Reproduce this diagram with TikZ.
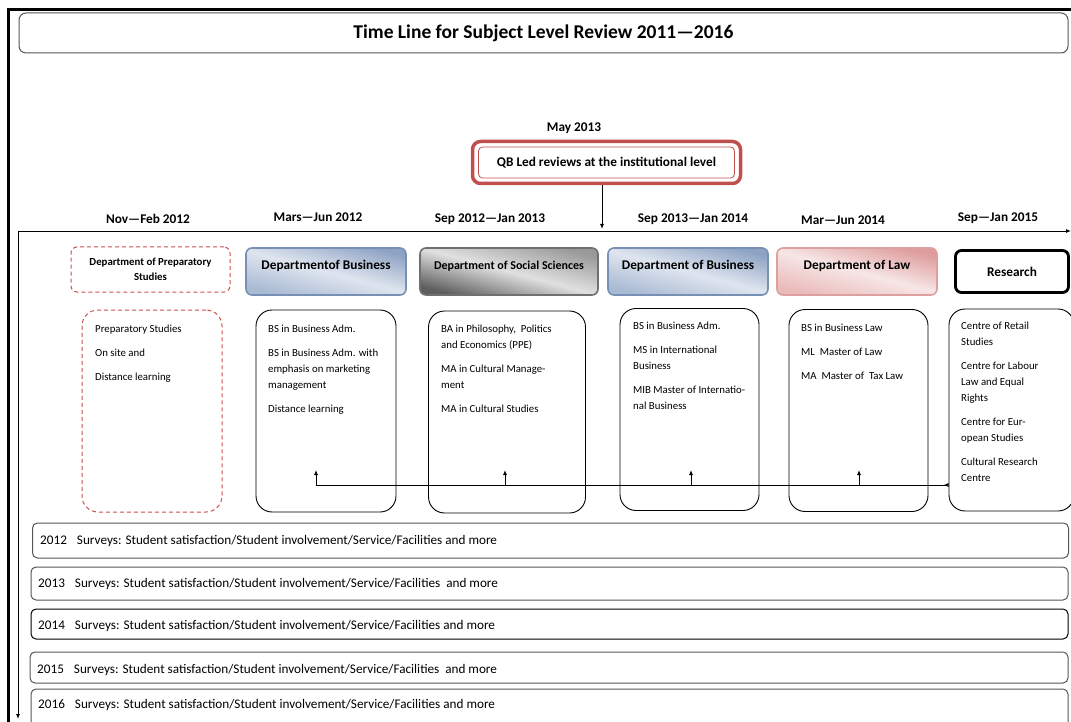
\documentclass[tikz,border=0pt]{standalone}
\usepackage{fontspec}
\setmainfont{Carlito}
\usetikzlibrary{arrows.meta}
\definecolor{qbred}{HTML}{C0504D}
\definecolor{dashred}{HTML}{C9504D}
\definecolor{bizline}{HTML}{7890B4}
\definecolor{bizdark}{HTML}{8EA3C4}
\definecolor{bizlight}{HTML}{DFE5EF}
\definecolor{bizmid}{HTML}{A9BAD3}
\definecolor{socline}{HTML}{707070}
\definecolor{socdark}{HTML}{5E5E5E}
\definecolor{soclight}{HTML}{E0E0E0}
\definecolor{socmid}{HTML}{999999}
\definecolor{lawline}{HTML}{DDA0A0}
\definecolor{lawdark}{HTML}{DE9C9C}
\definecolor{lawlight}{HTML}{F7E6E6}
\definecolor{lawmid}{HTML}{EABABA}
\definecolor{framegray}{HTML}{555555}
\tikzset{
  boldfont/.style={font=\bfseries\fontsize{13.3}{15}\selectfont},
  datelbl/.style={boldfont, inner sep=0pt},
  hdr/.style={rounded corners=6pt, minimum width=160pt, minimum height=47pt,
    inner sep=0pt, boldfont, text height=9pt, text depth=13pt},
  bizhdr/.style={hdr, draw=bizline, line width=1.6pt, shading=axis,
    top color=bizdark, bottom color=bizmid, middle color=bizlight, shading angle=-15},
  sochdr/.style={hdr, draw=socline, line width=1.6pt, shading=axis,
    top color=socmid, bottom color=socdark, middle color=soclight, shading angle=-15},
  lawhdr/.style={hdr, draw=lawline, line width=1.6pt, shading=axis,
    top color=lawdark, bottom color=lawmid, middle color=lawlight, shading angle=-15},
  contentbox/.style={draw, line width=0.9pt, rounded corners=16pt,
    minimum width=140pt, minimum height=202pt, inner sep=0pt},
  dashbox/.style={draw=dashred, line width=1pt, dash pattern=on 4pt off 3pt},
  bodytxt/.style={font=\fontsize{10.8}{16}\selectfont, align=left, inner sep=0pt, anchor=north west},
  surveybox/.style={draw=framegray, line width=1pt, rounded corners=5pt, minimum width=1036pt, inner sep=0pt},
  surveytxt/.style={font=\fontsize{13.2}{15}\selectfont, inner sep=0pt, anchor=west},
  arr/.style={-{Latex[length=5pt,width=4pt]}, line width=0.9pt},
}
\newcommand{\psep}{\\[8pt]}
\begin{document}
\begin{tikzpicture}[x=1pt,y=-1pt]
\useasboundingbox (0,0) rectangle (1071,722);
\clip (0,0) rectangle (1071,722);
% outer frame
\draw[line width=3pt] (8,722) -- (8,10) -- (1071,10);
% title
\node[draw=framegray, line width=1pt, rounded corners=7pt, minimum width=1049pt, minimum height=40pt,
  font=\bfseries\fontsize{19.5}{22}\selectfont] (title) at (543.5,33) {Time Line for Subject Level Review 2011—2016};
% QB box
\node[datelbl] (may) at (574,128) {May 2013};
\node[draw=qbred, line width=3.5pt, rounded corners=8pt, minimum width=268pt, minimum height=42pt, inner sep=0pt] (qb) at (606.5,162.5) {};
\node[draw=qbred, line width=0.8pt, rounded corners=4pt, minimum width=256pt, minimum height=31pt, inner sep=0pt,
  boldfont] (qbin) at (qb.center) {QB Led reviews at the institutional level};
% timeline
\coordinate (tl0) at (18,231);
\coordinate (tl1) at (1071,231);
\coordinate (tlb) at (18,719);
\coordinate (qbhit) at (602,229);
\draw[arr] (tl0) -- (tl1);
\draw[arr] (tl0) -- (tlb);
\draw[arr] (qb.south -| qbhit) -- (qbhit);
% date labels
\node[datelbl] (d1) at (148,219) {Nov—Feb 2012};
\node[datelbl] (d2) at (318,217) {Mars—Jun 2012};
\node[datelbl] (d3) at (490,219) {Sep 2012—Jan 2013};
\node[datelbl] (d4) at (693,219) {Sep 2013—Jan 2014};
\node[datelbl] (d5) at (843,220) {Mar—Jun 2014};
\node[datelbl] (d6) at (998,218) {Sep—Jan 2015};
% header boxes
\node[dashbox, rounded corners=6pt, minimum width=159pt, minimum height=45pt, inner sep=0pt, align=center,
  font=\bfseries\fontsize{10.8}{14.5}\selectfont] (h1) at (150.5,269.5) {Department of Preparatory\\Studies};
\node[bizhdr] (h2) at (326,271.5) {Departmentof Business};
\node[sochdr, minimum width=178pt, font=\bfseries\fontsize{12}{13}\selectfont] (h3) at (509,271.5) {Department of Social Sciences};
\node[bizhdr] (h4) at (688,271.5) {Department of Business};
\node[lawhdr] (h5) at (857,271.5) {Department of Law};
\node[draw, line width=2.8pt, rounded corners=6pt, minimum width=113pt, minimum height=42pt, inner sep=0pt,
  boldfont] (h6) at (1012,271.5) {Research};
% content boxes
\node[contentbox, dashbox, rounded corners=16pt] (c1) at (152,411) {};
\node[contentbox] (c2) at (326,411) {};
\node[contentbox, minimum width=157pt] (c3) at (507,412) {};
\node[contentbox, minimum width=139pt] (c4) at (689.5,409.5) {};
\node[contentbox, minimum width=139pt] (c5) at (858.5,410.5) {};
\node[contentbox, minimum width=125pt] (c6) at (1011.5,410) {};
% content texts
\node[bodytxt] (t1) at (95,325) {Preparatory Studies\psep On site and\psep Distance learning};
\node[bodytxt] (t2) at (268,325) {BS in Business Adm.\psep BS in Business Adm. with\\emphasis on marketing\\management\psep Distance learning};
\node[bodytxt] (t3) at (441,325) {BA in Philosophy,\ \ Politics\\and Economics (PPE)\psep MA in Cultural Manage-\\ment\psep MA in Cultural Studies};
\node[bodytxt] (t4) at (633,322) {BS in Business Adm.\psep MS in International\\Business\psep MIB Master of Internatio-\\nal Business};
\node[bodytxt] (t5) at (801,324) {BS in Business Law\psep ML\ \ Master of Law\psep MA\ \ Master of\ \ Tax Law};
\node[bodytxt] (t6) at (961,322) {Centre of Retail\\Studies\psep Centre for Labour\\Law and Equal\\Rights\psep Centre for Eur-\\opean Studies\psep Cultural Research\\Centre};
% bottom connector
\coordinate (b0) at (316,485);
\coordinate (a2) at (316,470);
\coordinate (b3) at (505,485);
\coordinate (a3) at (505,470);
\coordinate (b4) at (691,485);
\coordinate (a4) at (691,470);
\coordinate (b5) at (859,485);
\coordinate (a5) at (859,470);
\draw[line width=0.9pt, -{Latex[length=5pt,width=4pt,reversed]}] (b0) -- (c6.west |- b0);
\draw[arr] (b0) -- (a2);
\draw[arr] (b3) -- (a3);
\draw[arr] (b4) -- (a4);
\draw[arr] (b5) -- (a5);
% survey boxes
\node[surveybox, minimum height=35pt] (s1) at (550.5,540.5) {};
\node[surveybox, minimum height=33pt, minimum width=1037pt] (s2) at (549.5,583.5) {};
\node[surveybox, minimum height=30pt, minimum width=1037pt, draw=black] (s3) at (549.5,624) {};
\node[surveybox, minimum height=31pt, minimum width=1038pt] (s4) at (549,667.5) {};
\node[surveybox, minimum height=46pt, minimum width=1037pt] (s5) at (549.5,712) {};
\node[surveytxt] (st1) at (40,541) {2012\hspace{10pt}Surveys: Student satisfaction/Student involvement/Service/Facilities and more};
\node[surveytxt] (st2) at (38,584) {2013\hspace{10pt}Surveys: Student satisfaction/Student involvement/Service/Facilities\ \ and more};
\node[surveytxt] (st3) at (38,626) {2014\hspace{10pt}Surveys: Student satisfaction/Student involvement/Service/Facilities and more};
\node[surveytxt] (st4) at (37,670) {2015\hspace{10pt}Surveys: Student satisfaction/Student involvement/Service/Facilities\ \ and more};
\node[surveytxt] (st5) at (38,705) {2016\hspace{10pt}Surveys: Student satisfaction/Student involvement/Service/Facilities and more};
\end{tikzpicture}
\end{document}
